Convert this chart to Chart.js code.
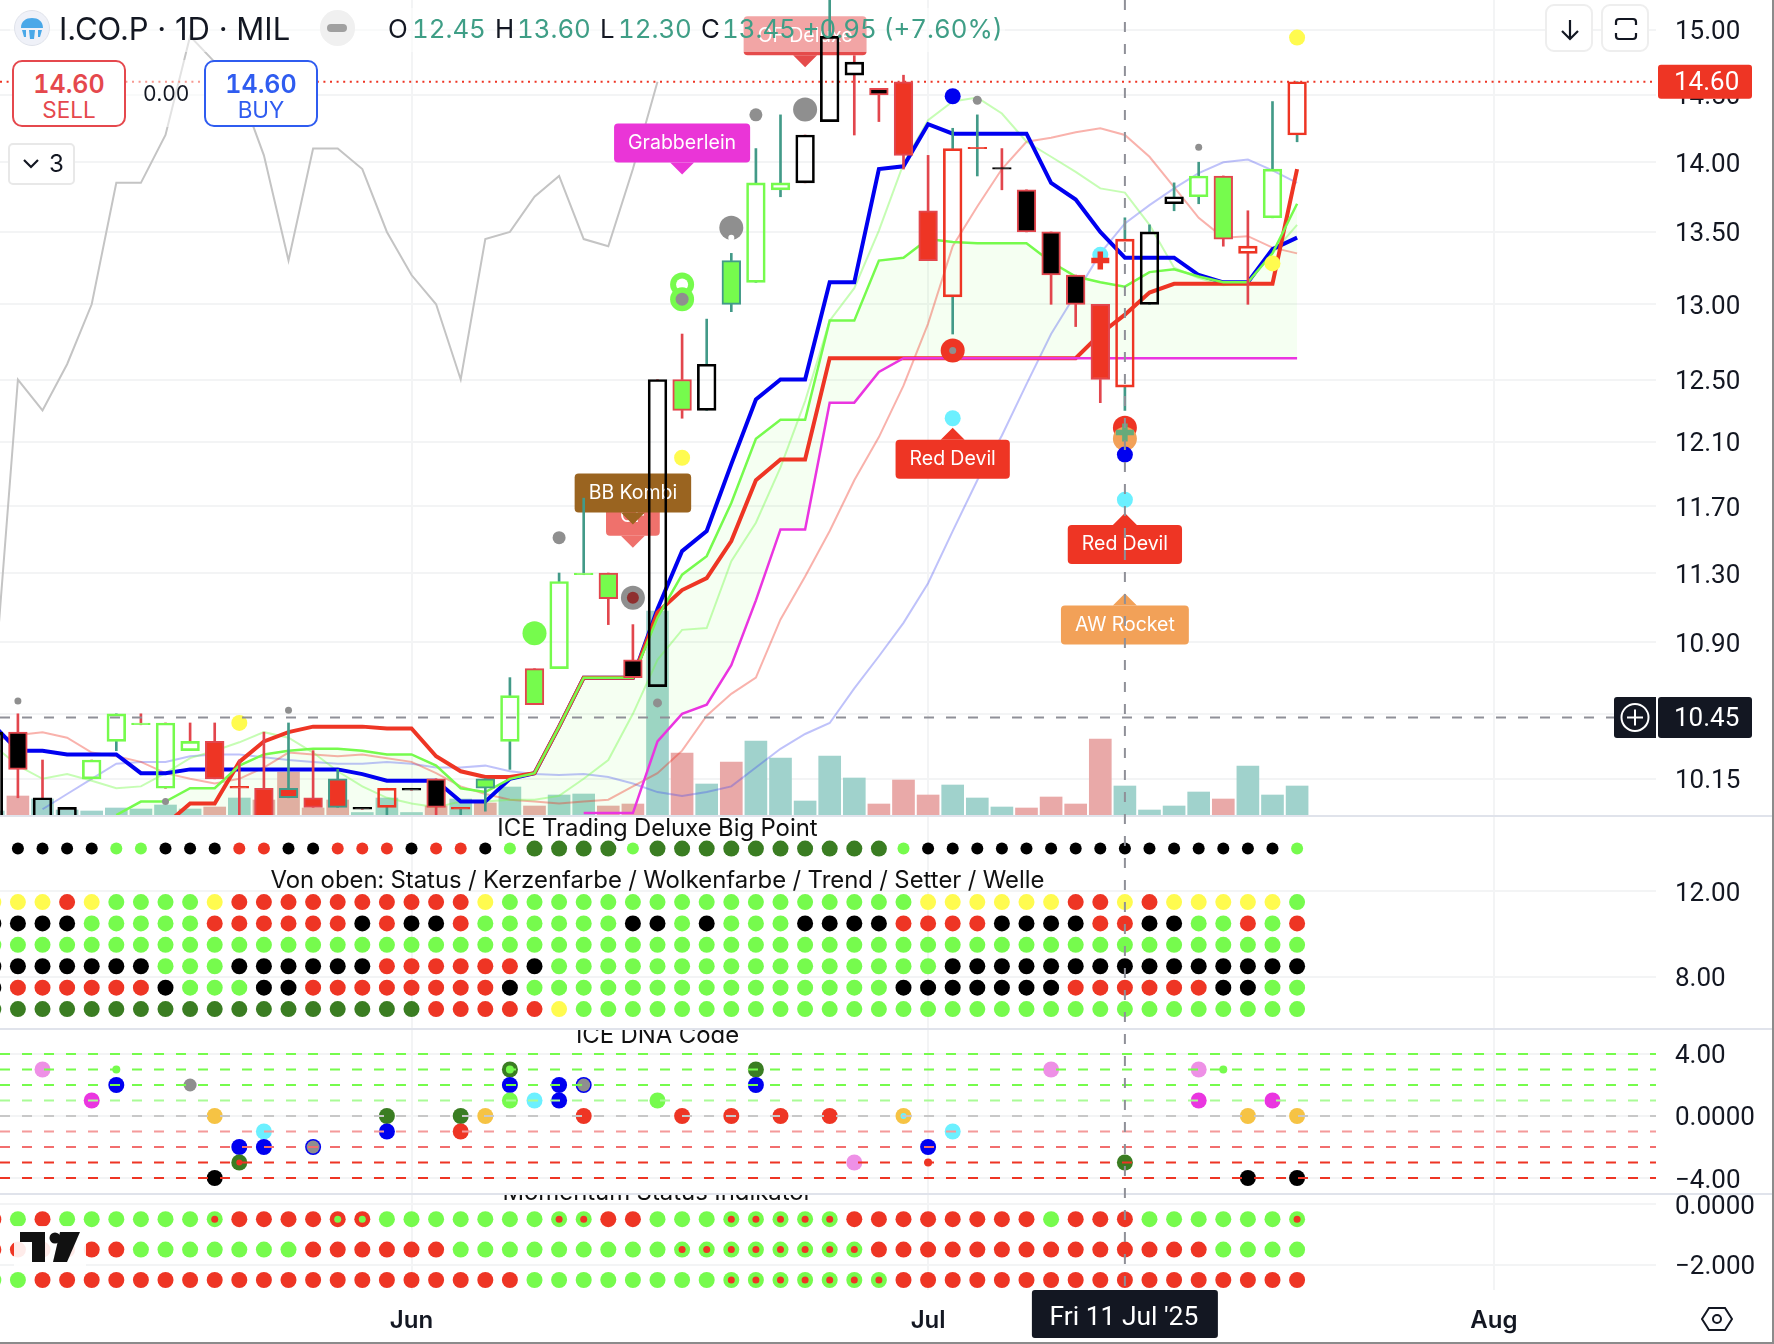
<!DOCTYPE html>
<html>
<head>
<meta charset="utf-8">
<title>I.CO.P 1D MIL</title>
<script src="https://cdn.jsdelivr.net/npm/chart.js@4"></script>
<style>
  html, body { margin: 0; padding: 0; background: #fff; width: 1774px; height: 1344px; overflow: hidden; }
  body { position: relative; font-family: Inter, "Noto Sans", sans-serif; color: #131722; font-feature-settings: "tnum"; }
  canvas { position: absolute; left: 0; top: 0; }
  .abs { position: absolute; white-space: nowrap; }
  .teal { color: #3f9e86; }
  .leg { font-size: 25.8px; line-height: 34px; top: 12px; }
  .order { position: absolute; top: 60px; width: 110px; height: 63px; border: 2px solid; border-radius: 10px; background: #fff; text-align: center; }
  .order b { display: block; font-size: 25px; font-weight: 600; line-height: 26px; margin-top: 9px; }
  .order span { display: block; font-size: 22.5px; line-height: 26px; }
  .tool { position: absolute; top: 4px; width: 44px; height: 44px; border: 2px solid #eeeeee; border-radius: 9px; background: #fff; }
</style>
</head>
<body>
<canvas id="grafico" width="1774" height="1344"></canvas>

<!-- legenda in alto -->
<svg class="abs" style="left:14px;top:10px" width="36" height="36" viewBox="0 0 36 36">
  <circle cx="18" cy="18" r="17.5" fill="#eff1f8" stroke="#dfe2ea"/>
  <path d="M7 18 C7 11 12 8 18 8 C24 8 29 11 29 18 Z M8 20 L12 20 L12 27 L10 27 Z M15 20 L21 20 L20 29 L16 29 Z M24 20 L28 20 L26 27 L24 27 Z" fill="#4aa8e8"/>
</svg>
<div class="abs" style="left:59px;top:10px;font-size:31px;line-height:38px;font-feature-settings:normal">I.CO.P · 1D · MIL</div>
<div class="abs" style="left:320px;top:10px;width:35px;height:36px;border-radius:18px;background:#f0f0f0"></div>
<div class="abs" style="left:327px;top:24px;width:20px;height:8px;border-radius:4px;background:#a0a0a0"></div>
<div class="abs leg" style="left:388px">O</div>
<div class="abs leg teal" style="left:412px">12.45</div>
<div class="abs leg" style="left:495px">H</div>
<div class="abs leg teal" style="left:517px">13.60</div>
<div class="abs leg" style="left:600px">L</div>
<div class="abs leg teal" style="left:618px">12.30</div>
<div class="abs leg" style="left:701px">C</div>
<div class="abs leg teal" style="left:722px">13.45 +0.95 (+7.60%)</div>

<div class="order" style="left:12px;border-color:#e5484d;color:#e5484d"><b>14.60</b><span>SELL</span></div>
<div class="abs" style="left:143px;top:81px;font-size:21px;line-height:26px">0.00</div>
<div class="order" style="left:204px;border-color:#2f5cf0;color:#2f5cf0"><b>14.60</b><span>BUY</span></div>

<div class="abs" style="left:8px;top:143px;width:63px;height:38px;border:2px solid #e8e8e8;border-radius:5px;background:#fff">
  <svg class="abs" style="left:12px;top:13px" width="18" height="12" viewBox="0 0 18 12"><path d="M2 2 L9 9 L16 2" fill="none" stroke="#131722" stroke-width="2.2"/></svg>
  <span class="abs" style="left:39px;top:3px;font-size:24px;line-height:32px">3</span>
</div>

<div class="tool" style="left:1545px">
  <svg class="abs" style="left:12px;top:12px" width="22" height="24" viewBox="0 0 22 24"><path d="M11 2 L11 21 M3 13 L11 21 L19 13" fill="none" stroke="#131722" stroke-width="2.2"/></svg>
</div>
<div class="tool" style="left:1601px">
  <svg class="abs" style="left:11px;top:11px" width="24" height="24" viewBox="0 0 24 24"><path d="M2 8 V5 Q2 2 5 2 H19 Q22 2 22 5 V8 M2 16 V19 Q2 22 5 22 H19 Q22 22 22 19 V16" fill="none" stroke="#131722" stroke-width="2.2"/></svg>
</div>

<!-- logo -->
<svg class="abs" style="left:14px;top:1226px" width="72" height="44" viewBox="0 0 72 44">
  <rect x="0" y="0" width="72" height="42" fill="#fff" opacity="0.9"/>
  <path d="M6 6 H31 V36 H18 V16 H6 Z" fill="#111"/>
  <circle cx="41" cy="12" r="5.5" fill="#111"/>
  <path d="M46 6 H66 L53 36 H39 Z" fill="#111"/>
</svg>

<svg class="abs" style="left:1700px;top:1306px" width="34" height="26" viewBox="0 0 34 26">
  <path d="M9 2 H25 L32 13 L25 24 H9 L2 13 Z" fill="none" stroke="#131722" stroke-width="2"/>
  <circle cx="17" cy="13" r="4" fill="none" stroke="#131722" stroke-width="2"/>
</svg>

<div class="abs" style="right:0;top:0;width:2px;height:1344px;background:#8b8b8b"></div>
<div class="abs" style="left:0;bottom:0;width:1774px;height:2px;background:#8b8b8b"></div>

<script>
// barre da -1 (tagliata a sinistra) a 52 = 22 Jul '25
const firstBar = -1;

// candele, griglia di 0.05
const candleOpen = [9.90,10.40,10.05,10.00,10.15,10.35,10.45,10.10,10.35,10.35,10.11,10.10,10.10,10.05,10.15,10.00,10.10,10.10,10.15,10.00,10.10,10.35,10.55,10.75,11.30,11.30,10.80,10.65,12.50,12.30,13.30,13.15,13.80,13.85,14.30,14.65,14.50,14.60,13.65,13.05,14.11,13.96,13.80,13.50,13.20,13.00,12.45,13.00,13.70,13.75,13.90,13.40,13.60,14.20];
const candleHigh = [10.40,10.50,10.25,10.00,10.25,10.50,10.50,10.45,10.45,10.45,10.25,10.40,10.45,10.30,10.20,10.00,10.10,10.10,10.15,10.00,10.15,10.70,10.75,11.30,11.75,11.30,11.00,12.50,12.80,12.90,13.35,14.10,14.35,14.20,15.30,14.80,14.55,14.65,14.05,14.25,14.35,14.10,13.80,13.50,13.20,13.00,13.60,13.55,13.85,14.00,13.90,13.65,14.45,14.60];
const candleLow = [9.90,10.05,9.90,9.90,10.15,10.30,10.44,10.10,10.30,10.15,9.95,9.95,10.05,10.00,10.00,9.99,9.95,10.09,9.95,9.95,9.98,10.20,10.55,10.75,11.29,11.00,10.70,10.65,12.25,12.30,12.95,13.15,13.75,13.85,14.30,14.20,14.30,13.95,13.30,12.80,13.90,13.80,13.50,13.00,12.85,12.35,12.30,13.00,13.65,13.70,13.40,13.00,13.60,14.15];
const candleClose = [10.40,10.20,9.90,9.90,10.25,10.50,10.44,10.45,10.30,10.15,10.10,9.95,10.05,10.00,10.00,9.99,10.00,10.09,10.00,9.99,10.15,10.60,10.75,11.25,11.29,11.15,10.70,12.50,12.30,12.60,13.00,13.85,13.85,14.20,14.95,14.75,14.55,14.05,13.30,14.10,14.10,13.95,13.50,13.20,13.00,12.50,13.45,13.50,13.75,13.90,13.45,13.35,13.95,14.60];
const candleKind = ["openBlack","black","openBlack","openBlack","openGreen","openGreen","flatGreen","openGreen","openGreen","red","flatRed","red","redTeal","red","redTeal","flatBlack","openRed","flatBlack","black","flatRed","greenTeal","openGreen","green","openGreen","flatGreen","green","black","openBlack","green","openBlack","greenTeal","openGreen","openGreen","openBlack","openBlack","openBlack","black","red","red","openRed","flatRed","flatBlack","black","black","black","red","openRed","openBlack","openBlack","openGreen","green","openRed","openGreen","openRed"];
const wickKind = "dddddtddddddtdtdtddtttdttddddttttdtddddttdddddttttddtt".split("");

// volumi (scala non letta, unità arbitrarie)
const volumes = [4,19,16,5,4,7,6,10,6,8,17,15,43,7,15,2.5,17,2.5,9,16,12,28,9,20,21,9,11,204,62,31,53,74,57,14,59,37,11,35,20,30,17,8,7,18,11,76,29,5,9,23,16,49,20,29];
const volumeSide = "trtttttttrtrrrrtttrtrtrttrrtrtrtttttrrrtttrrrrttttrttt".split("");

// medie e nuvola
const blueLine = [10.44,10.30,10.30,10.28,10.28,10.28,10.18,10.18,10.20,10.20,10.20,10.20,10.20,10.20,10.20,10.175,10.14,10.14,10.14,10.03,10.03,10.15,10.18,10.43,10.70,10.70,10.70,11.09,11.43,11.55,11.96,12.37,12.50,12.50,13.15,13.15,13.95,13.97,14.28,14.21,14.21,14.21,14.21,13.85,13.73,13.50,13.32,13.32,13.32,13.20,13.15,13.15,13.38,13.46];
const redLine = [null,null,null,null,null,null,null,9.91,10.02,10.02,10.24,10.35,10.40,10.43,10.43,10.43,10.42,10.42,10.27,10.19,10.16,10.16,10.18,10.43,10.70,10.70,10.70,11.07,11.20,11.27,11.49,11.86,11.99,11.99,12.64,12.64,12.64,12.64,12.64,12.64,12.64,12.64,12.64,12.64,12.64,12.80,12.93,13.08,13.14,13.14,13.14,13.14,13.14,13.95];
const greenLine = [null,null,null,null,null,9.96,10.03,10.03,10.10,10.10,10.22,10.28,10.30,10.31,10.31,10.30,10.28,10.28,10.22,10.10,10.08,10.15,10.18,10.43,10.70,10.70,10.70,11.04,11.29,11.40,11.72,12.12,12.24,12.24,12.89,12.89,13.30,13.32,13.45,13.43,13.42,13.42,13.42,13.29,13.19,13.15,13.12,13.22,13.24,13.19,13.15,13.15,13.35,13.70];
const magentaLine = [null,null,null,null,null,null,null,null,null,null,null,null,null,null,null,null,null,null,null,null,null,null,null,null,9.97,9.97,9.97,10.35,10.50,10.55,10.77,11.14,11.56,11.56,12.35,12.35,12.55,12.64,12.64,12.64,12.64,12.64,12.64,12.64,12.64,12.64,12.64,12.64,12.64,12.64,12.64,12.64,12.64,12.64];
const paleGreenLine = [10.33,10.22,10.15,10.175,10.14,10.10,10.11,10.18,10.26,10.30,10.345,10.40,10.37,10.29,10.19,10.11,10.05,10.02,10.00,10.03,10.03,10.04,10.04,10.06,10.15,10.25,10.50,10.80,10.97,10.98,11.37,11.60,11.94,12.36,12.89,13.11,13.51,13.99,14.31,14.45,14.48,14.36,14.15,14.04,13.93,13.81,13.78,13.55,13.25,13.18,13.13,13.15,13.35,13.55];
const paleRedLine = [10.35,10.385,10.40,10.37,10.29,10.27,10.24,10.18,10.15,10.125,10.15,10.21,10.29,10.28,10.27,10.28,10.26,10.24,10.18,10.11,10.07,10.04,10.03,10.02,10.03,10.04,10.11,10.18,10.30,10.49,10.61,10.70,11.03,11.28,11.55,11.86,12.13,12.46,12.87,13.40,13.68,13.95,14.15,14.18,14.22,14.25,14.20,14.04,13.82,13.60,13.46,13.47,13.39,13.35];
const paleBlueLine = [null,null,9.99,10.07,10.15,10.23,10.24,10.24,10.27,10.28,10.28,10.265,10.25,10.24,10.23,10.23,10.24,10.23,10.21,10.21,10.22,10.19,10.175,10.17,10.175,10.16,10.125,10.08,10.06,10.08,10.11,10.21,10.31,10.39,10.45,10.64,10.82,11.01,11.24,11.55,11.86,12.14,12.47,12.80,13.07,13.35,13.56,13.69,13.81,13.92,14.00,14.02,13.94,13.85];
const laggingLine = [10.60,12.50,12.30,12.60,13.00,13.85,13.85,14.20,14.95,14.75,14.55,14.05,13.30,14.10,14.10,13.95,13.50,13.20,13.00,12.50,13.45,13.50,13.75,13.90,13.45,13.40,13.95,14.60];

// marker sul prezzo
const priceMarkerBars = [0,6,9,11,21,22,25,25,26,27,27,27,27,27,29,29,30,32,38,39,38,38,38,44,44,45,45,45,45,45,48,51,52];
const priceMarkerValues = [10.57,10.03,10.45,10.52,10.95,11.51,11.155,11.155,10.56,12.00,13.135,13.135,13.035,13.035,13.53,13.46,14.35,14.39,14.49,14.46,12.69,12.69,12.25,13.34,13.30,12.19,12.12,12.16,12.02,11.74,14.11,13.28,14.94];
const priceMarkerKinds = ["grey3","grey3","yellow","grey3","lime12","grey6","grey12","darkRed6","grey4","yellow","lime12","white6","lime12","grey6","grey12","white3","grey6","grey12","blue","grey4","red12","grey3","cyan","cyan","redPlus","red12","orange12","tealPlus","blue","cyan","grey3","yellow","yellow"];

// etichette
const flagLabels = ["OF Deluxe","Grabberlein","CF","BB Kombi","Red Devil","Red Devil","AW Rocket"];
const flagBars = [32,27,25,25,38,45,45];
const flagPrices = [14.71,13.91,11.45,11.59,12.19,11.66,11.18];
const flagSides = ["above","above","above","above","below","below","below"];
const flagColors = ["#e54b4b","#ea35d7","#ef716c","#9a6420","#ee3524","#ee3524","#f2a158"];

// pannello stato
const bigPointLevel = 14;
const bigPointRow = "kkkkkggkkkrrkkrrrkrrkgddddgddddddddddgkkkkkkkkkkkkkkkg";
const statusLevels = [11.5,10.5,9.5,8.5,7.5,6.5];
const statusRows = [
  "yyyrygggg" + "yrrrrrrrrrry" + "ggggggggggggggggg" + "yyyyyyrryryyyyyg",
  "kkkkgggggrrrrrrkrkkrggggggkkgkgggkkkkrrrrkkkkrrkkggrgr",
  "gggggggggggggggggggggggggggggggggggggggggggggggggggggg",
  "kkkkkkkgggkkkkkkrrrrrrkggggggggggggggggkkkkkkkkkkkkkkk",
  "krrrrrrkgggkkrrrrrrrrkgggggggggggggggkkkkkkkrrrrrrkkgg",
  "ddddddddddddddddddrrrrrygggggggggggggggggggggggggggggg"
];

// ICE DNA Code
const dnaLevels = [4,3,2,1,0,-1,-2,-3,-4];
const dnaBars = [1,3,4,4,7,8,8,9,9,9,10,10,12,12,15,15,18,18,19,20,20,20,20,21,22,22,23,23,23,26,27,29,30,30,31,33,34,36,36,37,37,38,42,45,48,49,48,51,50,52,50,52];
const dnaValues = [3,1,3,2,2,0,-4,-2,-3,-3,-1,-2,-2,-2,0,-1,0,-1,0,3,3,2,1,1,2,1,2,2,0,1,0,0,3,2,0,0,-3,0,0,-2,-3,-1,3,-3,3,3,1,1,0,0,-4,-4];
const dnaKinds = ["pink","magenta","lime4","blue","grey6","gold","black","blue","darkGreen","red3","cyan","blue","blue","grey6","darkGreen","blue","darkGreen","red","gold","darkGreen","lime4","blue","lime","cyan","blue","blue","blue","grey6","red","lime","red","red","darkGreen","blue","red","red","pink","gold","cyan3","blue","red4","cyan","pink","darkGreen","pink","lime4","magenta","magenta","gold","gold","black","black"];

// Momentum Status: G = verde con centro rosso, R = rosso con centro verde
const momentumLevels = [-0.5,-1.5,-2.5];
const momentumRows = [
  "rgrggggggGrrrrRRgggggggGGrrgggGGGGGrrrrrrrrgrrrggggggG",
  "rrrrrrgggggggrrrrrrgggggggggGGGGGGGGrrrrrrrrrrrrrrgggg",
  "ggrrrrrrrrrrrrrrrrrrrrggggggggGGGGGGGrrrrrrrrrrrrrrrrr"
];

// assi
const priceTicks = [15,14.5,14,13.5,13,12.5,12.1,11.7,11.3,10.9,10.5,10.15];
const statusTicks = [12,8];
const dnaTicks = [4,0,-4];
const dnaTickLabels = ["4.00","0.0000","\u22124.00"];
const momentumTicks = [0,-2];
const momentumTickLabels = ["0.0000","\u22122.000"];
const monthTicks = [16,37,60];
const monthLabels = ["Jun","Jul","Aug"];

const paneTitles = ["ICE Trading Deluxe Big Point","Von oben: Status / Kerzenfarbe / Wolkenfarbe / Trend / Setter / Welle","ICE DNA Code","Momentum Status Indikator"];
const paneTitleAxes = ["status","status","dna","momentum"];
const paneTitleValues = [14.94,12.5,5.2,0.355];

const lastPrice = 14.60;
const lastPriceLabel = "14.60";
const crossBar = 45;
const crossDateLabel = "Fri 11 Jul '25";
const crossPrice = 10.48;
const crossPriceLabel = "10.45";

// stili
const RED = "#ee3524", LIME = "#76fb4d", DARK = "#3a7d22", BLUE = "#0000f0", MAG = "#ea35e0", CYAN = "#6cf0ff", GREY = "#8f8f8f";
const TEAL_WICK = "#429a88", RED_WICK = "#e2464d", INK = "#131722";
const bodyStyles = {
  openBlack: ["transparent","#000"], openGreen: ["transparent",LIME], openRed: ["transparent",RED],
  black: ["#000",RED_WICK], red: [RED,RED_WICK], redTeal: [RED,TEAL_WICK], green: [LIME,RED_WICK], greenTeal: [LIME,TEAL_WICK],
  flatGreen: [LIME,LIME], flatRed: [RED,RED], flatBlack: ["#000","#000"]
};
const markerStyles = {
  yellow: ["#fffb4f",8], grey3: [GREY,3.5], grey4: [GREY,4.5], grey6: [GREY,6.5], grey12: [GREY,12], lime12: [LIME,12], lime: [LIME,8], lime4: [LIME,4],
  darkRed6: ["#8f2f2f",6], white6: ["#fff",6], white3: ["#fff",3], blue: [BLUE,8], red12: [RED,12], red: [RED,8], red3: [RED,3], red4: [RED,4],
  cyan: [CYAN,8], cyan3: [CYAN,3], orange12: ["#f2a158",12], pink: ["#ee90e6",8], magenta: [MAG,8], gold: ["#f6c344",8], black: ["#000",8],
  darkGreen: [DARK,8]
};
const plusStyles = { redPlus: RED, tealPlus: "#66aa7a" };
const dotColors = { y: "#fffb4f", g: LIME, r: RED, k: "#000", d: DARK };
const dnaLineColors = [LIME,LIME,LIME,"#a9fb96","#c8c8c8","#f49a9a","#f26e6e",RED,RED];

const PRICE_MIN = 9.955, PRICE_MAX = 15.236;
const X_MIN = -0.728, X_MAX = 66.59;
const AXIS_FONT = { family: "Roboto", size: 26 };

function series(values) {
  return values.map((y, k) => ({ x: k + firstBar, y: y }));
}

function lineSet(label, values, color, width, order) {
  return { type: "line", label: label, yAxisID: "price", data: series(values), borderColor: color, borderWidth: width, pointRadius: 0, tension: 0, order: order, fill: false };
}

function floatSet(label, pairs, colors, thickness, order) {
  return {
    type: "bar", label: label, yAxisID: "price", grouped: false, barThickness: thickness, order: order,
    data: pairs.map((p, k) => ({ x: k + firstBar, y: p })), backgroundColor: colors, borderWidth: 0
  };
}

function dotSet(label, axis, points, order) {
  return {
    type: "scatter", label: label, yAxisID: axis, order: order, showLine: false, data: points.map(p => ({ x: p.x, y: p.y })),
    pointBackgroundColor: points.map(p => p.color), pointRadius: points.map(p => p.r), pointBorderWidth: 0, pointHoverRadius: 0
  };
}

function rowPoints(rows, levels) {
  let out = [];
  rows.forEach((row, r) => row.split("").forEach((c, k) => {
    out.push({ x: k + firstBar, y: levels[r], color: dotColors[c], r: 8 });
  }));
  return out;
}

function kindPoints(bars, values, kinds) {
  return bars.map((b, k) => ({ x: b, y: values[k], kind: kinds[k] })).filter(p => markerStyles[p.kind])
    .map(p => ({ x: p.x, y: p.y, color: markerStyles[p.kind][0], r: markerStyles[p.kind][1] }));
}

const momentumOuter = [], momentumInner = [];
momentumRows.forEach((row, r) => row.split("").forEach((c, k) => {
  const x = k + firstBar, y = momentumLevels[r];
  momentumOuter.push({ x: x, y: y, color: (c === "g" || c === "G") ? LIME : RED, r: 8 });
  if (c === "G") momentumInner.push({ x: x, y: y, color: RED, r: 3.5 });
  if (c === "R") momentumInner.push({ x: x, y: y, color: LIME, r: 3.5 });
}));

const bigPointPoints = bigPointRow.split("").map((c, k) => ({ x: k + firstBar, y: bigPointLevel, color: dotColors[c], r: c === "d" ? 8 : 6 }));

const plusPoints = priceMarkerKinds.map((kind, k) => ({ x: priceMarkerBars[k], y: priceMarkerValues[k], kind: kind })).filter(p => plusStyles[p.kind]);

const datasets = [];
// nuvola: bordo inferiore invisibile + riempimento
datasets.push({ type: "line", label: "cloudFloor", yAxisID: "price", data: series(magentaLine.map(v => v === null ? PRICE_MIN : v)), borderWidth: 0, pointRadius: 0, tension: 0, fill: false, order: 96 });
datasets.push({ type: "line", label: "cloud", yAxisID: "price", data: series(greenLine), borderWidth: 0, pointRadius: 0, tension: 0, order: 95,
  fill: { target: "-1", above: "rgba(118,251,77,0.07)", below: "rgba(118,251,77,0.07)" } });
datasets.push({
  type: "bar", label: "volume", yAxisID: "volume", grouped: false, barThickness: 22, order: 100,
  data: series(volumes), backgroundColor: volumeSide.map(c => c === "r" ? "#e9a9a8" : "#a0d2cc"), borderWidth: 0
});
datasets.push(lineSet("lagging", laggingLine, "#c4c4c4", 2, 80));
datasets.push(lineSet("paleBlue", paleBlueLine, "rgba(60,70,240,0.33)", 2, 79));
datasets.push(lineSet("paleRed", paleRedLine, "rgba(238,53,36,0.38)", 2, 78));
datasets.push(lineSet("paleGreen", paleGreenLine, "rgba(118,251,77,0.42)", 2, 77));
datasets.push(lineSet("blue", blueLine, BLUE, 4, 72));
datasets.push(lineSet("red", redLine, RED, 4, 71));
datasets.push(lineSet("green", greenLine, LIME, 2.5, 70));
datasets.push(lineSet("magenta", magentaLine, MAG, 2.5, 69));
datasets.push({ type: "line", label: "lastPrice", yAxisID: "price", data: [{ x: X_MIN, y: lastPrice }, { x: X_MAX, y: lastPrice }], borderColor: RED, borderWidth: 2, borderDash: [2, 4.6], pointRadius: 0, order: 60 });

// stoppini: sopra e sotto il corpo, il corpo vuoto resta vuoto
const wickColors = wickKind.map(w => w === "t" ? TEAL_WICK : RED_WICK);
datasets.push(floatSet("wicksHigh", candleOpen.map((o, k) => [Math.max(o, candleClose[k]), candleHigh[k]]), wickColors, 2, 41));
datasets.push(floatSet("wicksLow", candleOpen.map((o, k) => [candleLow[k], Math.min(o, candleClose[k])]), wickColors, 2, 40));
datasets.push({
  type: "bar", label: "candles", yAxisID: "price", grouped: false, barThickness: 18.7, order: 39, borderSkipped: false, borderWidth: 2,
  data: candleOpen.map((o, k) => ({ x: k + firstBar, y: [o, candleClose[k]] })),
  backgroundColor: candleKind.map(k => bodyStyles[k][0]), borderColor: candleKind.map(k => bodyStyles[k][1])
});

datasets.push(dotSet("priceMarkers", "price", kindPoints(priceMarkerBars, priceMarkerValues, priceMarkerKinds), 30));
datasets.push({
  type: "scatter", label: "plusMarkers", yAxisID: "price", order: 29, showLine: false,
  data: plusPoints.map(p => ({ x: p.x, y: p.y })), pointStyle: "cross", pointRadius: 9,
  pointBorderColor: plusPoints.map(p => plusStyles[p.kind]), pointBorderWidth: 5.5
});
datasets.push({ type: "line", label: "crossPrice", yAxisID: "price", data: [{ x: X_MIN, y: crossPrice }, { x: X_MAX, y: crossPrice }], borderColor: "#8f9098", borderWidth: 2, borderDash: [10, 12], pointRadius: 0, order: 20 });

datasets.push(dotSet("bigPoint", "status", bigPointPoints, 30));
datasets.push(dotSet("status", "status", rowPoints(statusRows, statusLevels), 30));
datasets.push(dotSet("dna", "dna", kindPoints(dnaBars, dnaValues, dnaKinds), 30));
dnaLevels.forEach((v, k) => {
  datasets.push({ type: "line", label: "dna" + v, yAxisID: "dna", data: [{ x: X_MIN, y: v }, { x: X_MAX, y: v }], borderColor: dnaLineColors[k], borderWidth: 2, borderDash: [10, 12], pointRadius: 0, order: 25 });
});
datasets.push(dotSet("momentumOuter", "momentum", momentumOuter, 30));
datasets.push(dotSet("momentumInner", "momentum", momentumInner, 29));

function drawFlag(ctx, chart, k) {
  const x = chart.scales.x.getPixelForValue(flagBars[k]);
  const tip = chart.scales.price.getPixelForValue(flagPrices[k]);
  const above = flagSides[k] === "above";
  ctx.font = "19.5px Inter";
  const w = ctx.measureText(flagLabels[k]).width + 28, h = 39, p = 12;
  const top = above ? tip - p - h : tip + p;
  ctx.fillStyle = flagColors[k];
  ctx.beginPath();
  ctx.roundRect(x - w / 2, top, w, h, 4);
  ctx.fill();
  ctx.beginPath();
  ctx.moveTo(x - 12, above ? top + h : top);
  ctx.lineTo(x, tip);
  ctx.lineTo(x + 12, above ? top + h : top);
  ctx.closePath();
  ctx.fill();
  ctx.fillStyle = "#fff";
  ctx.textAlign = "center";
  ctx.textBaseline = "middle";
  ctx.fillText(flagLabels[k], x, top + h / 2);
}

const panePlugin = {
  id: "pane",
  // le etichette stanno sopra le linee ma sotto le candele
  beforeDatasetDraw(chart, args) {
    if (args.meta.label !== "wicksHigh") return;
    const ctx = chart.ctx;
    ctx.save();
    flagLabels.forEach((_, k) => drawFlag(ctx, chart, k));
    // velo bianco della legenda
    ctx.fillStyle = "rgba(255,255,255,0.5)";
    ctx.fillRect(10, 8, 995, 44);
    ctx.fillRect(126, 60, 78, 67);
    ctx.restore();
  },
  afterDatasetsDraw(chart) {
    const ctx = chart.ctx, area = chart.chartArea;
    ctx.save();
    // titoli dei pannelli, tagliati dal bordo del pannello
    paneTitles.forEach((t, k) => {
      const s = chart.scales[paneTitleAxes[k]];
      ctx.save();
      ctx.beginPath();
      ctx.rect(0, s.top, area.right, s.bottom - s.top);
      ctx.clip();
      ctx.font = "23.9px Inter";
      ctx.fillStyle = "#111";
      ctx.textAlign = "center";
      ctx.textBaseline = "middle";
      ctx.fillText(t, chart.scales.x.getPixelForValue(26), s.getPixelForValue(paneTitleValues[k]));
      ctx.restore();
    });
    // separatori
    ctx.strokeStyle = "#e0e3eb";
    ctx.lineWidth = 2;
    ["status", "dna", "momentum"].forEach(id => {
      const y = chart.scales[id].top;
      ctx.beginPath();
      ctx.moveTo(0, y);
      ctx.lineTo(chart.width, y);
      ctx.stroke();
    });
    // crosshair verticale
    const cx = chart.scales.x.getPixelForValue(crossBar);
    ctx.strokeStyle = "#8f9098";
    ctx.setLineDash([10, 12]);
    ctx.beginPath();
    ctx.moveTo(cx, 0);
    ctx.lineTo(cx, area.bottom);
    ctx.stroke();
    ctx.restore();
  },
  afterDraw(chart) {
    const ctx = chart.ctx, area = chart.chartArea;
    const cx = chart.scales.x.getPixelForValue(crossBar);
    const lastY = chart.scales.price.getPixelForValue(lastPrice);
    const crossY = chart.scales.price.getPixelForValue(crossPrice);
    ctx.save();
    ctx.textBaseline = "middle";
    ctx.textAlign = "left";
    ctx.font = "26px Roboto";
    // prezzo corrente
    ctx.fillStyle = RED;
    ctx.beginPath();
    ctx.roundRect(area.right + 2, lastY - 17, 94, 34, 3);
    ctx.fill();
    ctx.fillStyle = "#fff";
    ctx.fillText(lastPriceLabel, 1674, lastY + 2);
    // prezzo del crosshair
    ctx.fillStyle = INK;
    ctx.beginPath();
    ctx.roundRect(area.right + 2, crossY - 20.5, 94, 41, 3);
    ctx.fill();
    ctx.beginPath();
    ctx.roundRect(area.right - 42, crossY - 20.5, 42, 41, [3, 0, 0, 3]);
    ctx.fill();
    ctx.fillStyle = "#fff";
    ctx.fillText(crossPriceLabel, 1674, crossY + 2);
    ctx.strokeStyle = "#fff";
    ctx.lineWidth = 2;
    ctx.beginPath();
    ctx.arc(area.right - 21, crossY, 13.5, 0, Math.PI * 2);
    ctx.moveTo(area.right - 29, crossY);
    ctx.lineTo(area.right - 13, crossY);
    ctx.moveTo(area.right - 21, crossY - 8);
    ctx.lineTo(area.right - 21, crossY + 8);
    ctx.stroke();
    // data del crosshair
    ctx.fillStyle = INK;
    ctx.beginPath();
    ctx.roundRect(cx - 93, area.bottom, 186, 48, 3);
    ctx.fill();
    ctx.fillStyle = "#fff";
    ctx.textAlign = "center";
    ctx.font = "26.4px Roboto";
    ctx.fillText(crossDateLabel, cx - 1, area.bottom + 28);
    ctx.restore();
  }
};

function fixFit(size) {
  return function (scale) {
    if (scale.isHorizontal()) scale.height = size; else scale.width = size;
    scale.paddingTop = scale.paddingBottom = scale.paddingLeft = scale.paddingRight = 0;
  };
}

function yAxis(extra, ticks, labels, weight, stackWeight) {
  return Object.assign({
    position: "right", stack: "panes", stackWeight: stackWeight, weight: weight,
    grid: { color: "#f3f4f5", lineWidth: 2, drawTicks: false }, border: { display: false },
    ticks: { autoSkip: false, padding: 19, labelOffset: 3, color: INK, font: AXIS_FONT, crossAlign: "near", callback: (v, i) => labels ? labels[i] : Number(v).toFixed(2) },
    afterBuildTicks(scale) { scale.ticks = ticks.map(v => ({ value: v })); },
    afterFit: fixFit(118)
  }, extra);
}

new Chart(document.getElementById("grafico").getContext("2d"), {
  type: "bar",
  data: { datasets: datasets },
  plugins: [panePlugin],
  options: {
    responsive: false,
    animation: false,
    events: [],
    layout: { padding: 0, autoPadding: false },
    plugins: { legend: { display: false }, tooltip: { enabled: false } },
    scales: {
      x: {
        type: "linear", min: X_MIN, max: X_MAX, position: "bottom", offset: false,
        grid: { color: "#f3f4f5", lineWidth: 2, drawTicks: false, offset: false }, border: { display: false },
        ticks: { autoSkip: false, maxRotation: 0, padding: 16, color: INK, font: { family: "Inter", size: 24, weight: "600" }, callback: (v, i) => monthLabels[i] },
        afterBuildTicks(scale) { scale.ticks = monthTicks.map(v => ({ value: v })); },
        afterFit: fixFit(54)
      },
      price: yAxis({ type: "logarithmic", min: PRICE_MIN, max: PRICE_MAX }, priceTicks, null, 0, 816),
      status: yAxis({ type: "linear", min: 5.57, max: 15.52 }, statusTicks, null, 1, 213),
      dna: yAxis({ type: "linear", min: -5.03, max: 5.61 }, dnaTicks, dnaTickLabels, 2, 165),
      momentum: yAxis({ type: "linear", min: -2.83, max: 0.33 }, momentumTicks, momentumTickLabels, 3, 96),
      volume: { type: "linear", display: false, position: "right", min: -475, max: 815 }
    }
  }
});
</script>
</body>
</html>
